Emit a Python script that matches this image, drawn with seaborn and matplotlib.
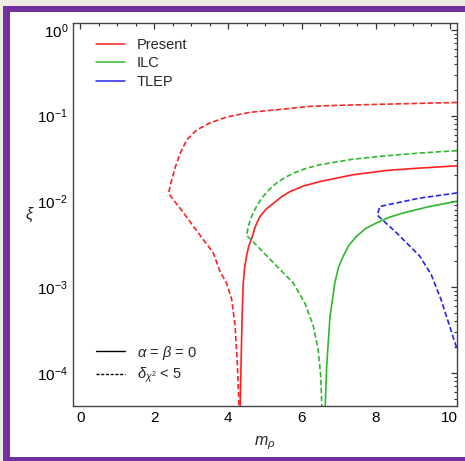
import numpy as np
import pandas as pd
import seaborn as sns
import matplotlib
matplotlib.use("Agg")
import matplotlib.pyplot as plt
from matplotlib.patches import Rectangle
from matplotlib.lines import Line2D
from matplotlib.ticker import LogLocator, MultipleLocator, NullFormatter

# --- bounds on the mixing xi as a function of m_rho ---
present_dchi_m = [10.2, 8.65, 6.84, 6.22, 5.50, 4.59, 3.96, 3.51, 3.15, 2.88, 2.70, 2.57,
                  2.45, 2.39, 2.48, 2.70, 3.06, 3.60, 3.78, 3.96, 4.10, 4.19, 4.25, 4.31]
present_dchi_xi = [0.142, 0.137, 0.131, 0.128, 0.119, 0.109, 0.096, 0.082, 0.068, 0.052, 0.036, 0.025,
                   0.0163, 0.0125, 0.0109, 0.0083, 0.0051, 0.0025, 0.00152, 0.00111, 7.1e-4, 3.5e-4,
                   1.3e-4, 3e-5]

present_ab0_m = [4.32, 4.35, 4.38, 4.41, 4.45, 4.50, 4.56, 4.64, 4.74, 4.86, 5.03, 5.23, 5.45,
                 5.68, 6.05, 6.49, 7.39, 8.29, 9.19, 10.2]
present_ab0_xi = [3e-5, 1.2e-4, 4.5e-4, 0.00111, 0.0017, 0.0023, 0.0030, 0.0037, 0.0051, 0.0066,
                  0.0081, 0.0095, 0.0113, 0.0130, 0.0151, 0.0170, 0.0204, 0.0229, 0.0244, 0.0259]

ilc_dchi_m = [10.2, 9.19, 8.29, 7.39, 6.49, 6.10, 5.77, 5.52, 5.31, 5.12, 4.95, 4.80, 4.68,
              4.60, 4.55, 4.50, 4.64, 5.14, 5.77, 6.08, 6.31, 6.44, 6.51, 6.55]
ilc_dchi_xi = [0.039, 0.0365, 0.034, 0.031, 0.0267, 0.0241, 0.0213, 0.0187, 0.0163, 0.0138,
               0.0114, 0.0092, 0.0073, 0.0061, 0.0051, 0.0040, 0.0035, 0.0021, 0.00111, 6.5e-4,
               3.5e-4, 1.86e-4, 9.1e-5, 3e-5]

ilc_ab0_m = [6.62, 6.67, 6.76, 6.89, 6.99, 7.12, 7.28, 7.48, 7.72, 8.02, 8.36, 8.74, 9.46, 10.2]
ilc_ab0_xi = [3e-5, 1.2e-4, 4.5e-4, 0.00111, 0.0017, 0.0023, 0.0031, 0.0039, 0.0048, 0.0056,
              0.0065, 0.0073, 0.0087, 0.0100]

tlep_dchi_m = [10.2, 9.19, 8.11, 8.04, 8.56, 9.19, 9.50, 9.77, 10.0, 10.2]
tlep_dchi_xi = [0.0125, 0.0109, 0.0087, 0.0069, 0.0043, 0.0023, 0.0014, 7.1e-4, 3.5e-4, 1.9e-4]

experiments = ["Present", "ILC", "TLEP"]
criteria = [r"$\alpha$ = $\beta$ = 0", r"$\delta_{\chi^2}$ < 5"]

curves = [
    ("Present", criteria[1], present_dchi_m, present_dchi_xi),
    ("Present", criteria[0], present_ab0_m, present_ab0_xi),
    ("ILC", criteria[1], ilc_dchi_m, ilc_dchi_xi),
    ("ILC", criteria[0], ilc_ab0_m, ilc_ab0_xi),
    ("TLEP", criteria[1], tlep_dchi_m, tlep_dchi_xi),
]

frames = []
for i, (exp, crit, m, xi) in enumerate(curves):
    frames.append(pd.DataFrame({"m": m, "xi": xi, "experiment": exp,
                                "criterion": crit, "curve": i}))
df = pd.concat(frames, ignore_index=True)

palette = {"Present": "#FF2020", "ILC": "#2DB82D", "TLEP": "#2424F0"}
dash_map = {criteria[0]: "", criteria[1]: (3.2, 1.6)}

sns.set_theme(style="white")
plt.rcParams["font.family"] = ["Liberation Sans", "DejaVu Sans"]
plt.rcParams["mathtext.fontset"] = "custom"
plt.rcParams["mathtext.rm"] = "Liberation Sans"
plt.rcParams["mathtext.it"] = "Liberation Sans:italic"

W, H = 465, 461
fig = plt.figure(figsize=(W / 100, H / 100), dpi=100, facecolor="white")

# frame around the panel, drawn in pixel units on a full-figure background axes
bg = fig.add_axes([0, 0, 1, 1], zorder=-5)
bg.set_xlim(0, W)
bg.set_ylim(H, 0)
bg.axis("off")
purple = "#7030A0"
bg.add_patch(Rectangle((0, 0), W, 6, facecolor="#EEEBE3", edgecolor="none"))
bg.add_patch(Rectangle((0, 0), 3, H, facecolor="#EEEBE3", edgecolor="none"))
bg.add_patch(Rectangle((3, 6), W, 6, facecolor=purple, edgecolor="none"))
bg.add_patch(Rectangle((3, 6), 7, H, facecolor=purple, edgecolor="none"))
bg.add_patch(Rectangle((3, 457), W, 4, facecolor=purple, edgecolor="none"))

ax = fig.add_axes([73 / W, 1 - 406 / H, (457 - 73) / W, (406 - 23) / H])
ax.set_facecolor("white")

sns.lineplot(data=df, x="m", y="xi", hue="experiment", style="criterion",
             units="curve", estimator=None, sort=False, palette=palette,
             dashes=dash_map, hue_order=experiments, style_order=criteria,
             linewidth=1.2, legend=False, ax=ax)

ax.set_yscale("log")
ax.set_xlim(-0.2, 10.2)
ax.set_ylim(4.1e-5, 1.2)

ax.xaxis.set_major_locator(MultipleLocator(2))
ax.xaxis.set_minor_locator(MultipleLocator(0.5))
ax.yaxis.set_major_locator(LogLocator(base=10, numticks=10))
ax.yaxis.set_minor_locator(LogLocator(base=10, subs=np.arange(2, 10), numticks=20))
ax.yaxis.set_minor_formatter(NullFormatter())
ax.tick_params(which="both", direction="in", top=True, right=True,
               colors="#333333", labelcolor="black", labelsize=11)
ax.tick_params(which="major", length=4.5, width=0.9)
ax.tick_params(which="minor", length=2.5, width=0.8)
for s in ax.spines.values():
    s.set_color("#444444")
    s.set_linewidth(1.0)

ax.set_xlabel(r"$m_\rho$", fontsize=11.5, labelpad=7)
ax.set_ylabel(r"$\xi$", fontsize=11.5, rotation=0, labelpad=5, va="center")

leg1 = ax.legend(handles=[Line2D([], [], color=palette[e], lw=1.1) for e in experiments],
                 labels=experiments, loc="upper left", frameon=False,
                 fontsize=10.5, handlelength=2.0, handletextpad=0.8,
                 labelspacing=0.3, bbox_to_anchor=(0.025, 0.995))
ax.add_artist(leg1)
ax.legend(handles=[Line2D([], [], color="black", lw=1.0),
                   Line2D([], [], color="black", lw=1.0, dashes=(2.2, 1.2))],
          labels=criteria, loc="lower left", frameon=False, fontsize=10.5,
          handlelength=2.0, handletextpad=0.8, labelspacing=0.3,
          bbox_to_anchor=(0.025, 0.02))

fig.savefig("out.png", dpi=100)
